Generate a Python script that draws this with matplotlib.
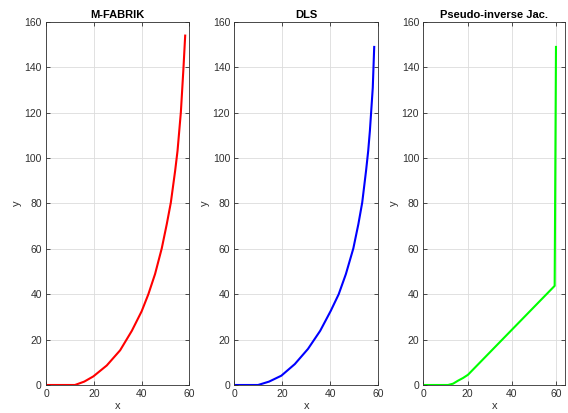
import matplotlib
matplotlib.use("Agg")
import matplotlib.pyplot as plt

# --- data ---
titles = ["M-FABRIK", "DLS", "Pseudo-inverse Jac."]
colors = ["#ff0000", "#0000ff", "#00ff00"]

fabrik_x = [0, 12.1, 16.0, 19.8, 25.4, 31.0, 35.9, 40.0, 42.8, 45.6, 48.4, 50.5, 52.2, 54.0, 55.0, 56.4, 57.5, 58.2]
fabrik_y = [0, 0, 1.5, 3.8, 8.6, 15.3, 23.9, 32.5, 40.0, 48.9, 60.2, 70.9, 80.4, 94.4, 103.2, 120.3, 140.0, 154.0]

dls_x = [0, 9.9, 14.5, 19.6, 25.2, 30.7, 35.8, 40.2, 43.5, 46.5, 49.6, 51.7, 53.3, 54.9, 55.8, 56.5, 57.7, 58.3]
dls_y = [0, 0, 1.5, 4.1, 9.2, 15.9, 23.9, 32.7, 40.0, 48.9, 60.2, 70.9, 80.4, 94.4, 103.2, 112.0, 131.0, 149.0]

pinv_x = [0, 11.2, 13.5, 15.7, 18.0, 20.2, 59.4, 60.0]
pinv_y = [0, 0, 0.6, 1.9, 3.1, 4.5, 43.7, 149.0]

xticks = [0, 20, 40, 60]
yticks = [0, 20, 40, 60, 80, 100, 120, 140, 160]
xlims = [(0, 60), (0, 60), (0, 64.2)]

plt.rcParams['font.family'] = ['Liberation Sans', 'DejaVu Sans']

fig = plt.figure(figsize=(5.68, 4.13), dpi=100)
lefts = [0.081, 0.4125, 0.7452]
widths = [0.2526, 0.2535, 0.25]
data = [(fabrik_x, fabrik_y), (dls_x, dls_y), (pinv_x, pinv_y)]

tick_gray = "#303030"
for i in range(3):
    ax = fig.add_axes([lefts[i], 0.0678, widths[i], 0.879])
    x, y = data[i]
    ax.plot(x, y, color=colors[i], lw=1.5)
    ax.set_xlim(*xlims[i])
    ax.set_ylim(0, 160)
    ax.set_xticks(xticks)
    ax.set_yticks(yticks)
    ax.grid(True, color="#dcdcdc", lw=0.6)
    ax.tick_params(direction="in", top=True, right=True, length=3, width=0.6,
                   labelsize=7.5, colors=tick_gray, pad=3)
    for s in ax.spines.values():
        s.set_color(tick_gray)
        s.set_linewidth(0.6)
    ax.set_title(titles[i], fontsize=8, fontweight="bold", pad=3)
    ax.set_xlabel("x", fontsize=8, color=tick_gray, labelpad=1)
    ax.set_ylabel("y", fontsize=8, color=tick_gray, labelpad=2)

fig.savefig("out.png", dpi=100)
